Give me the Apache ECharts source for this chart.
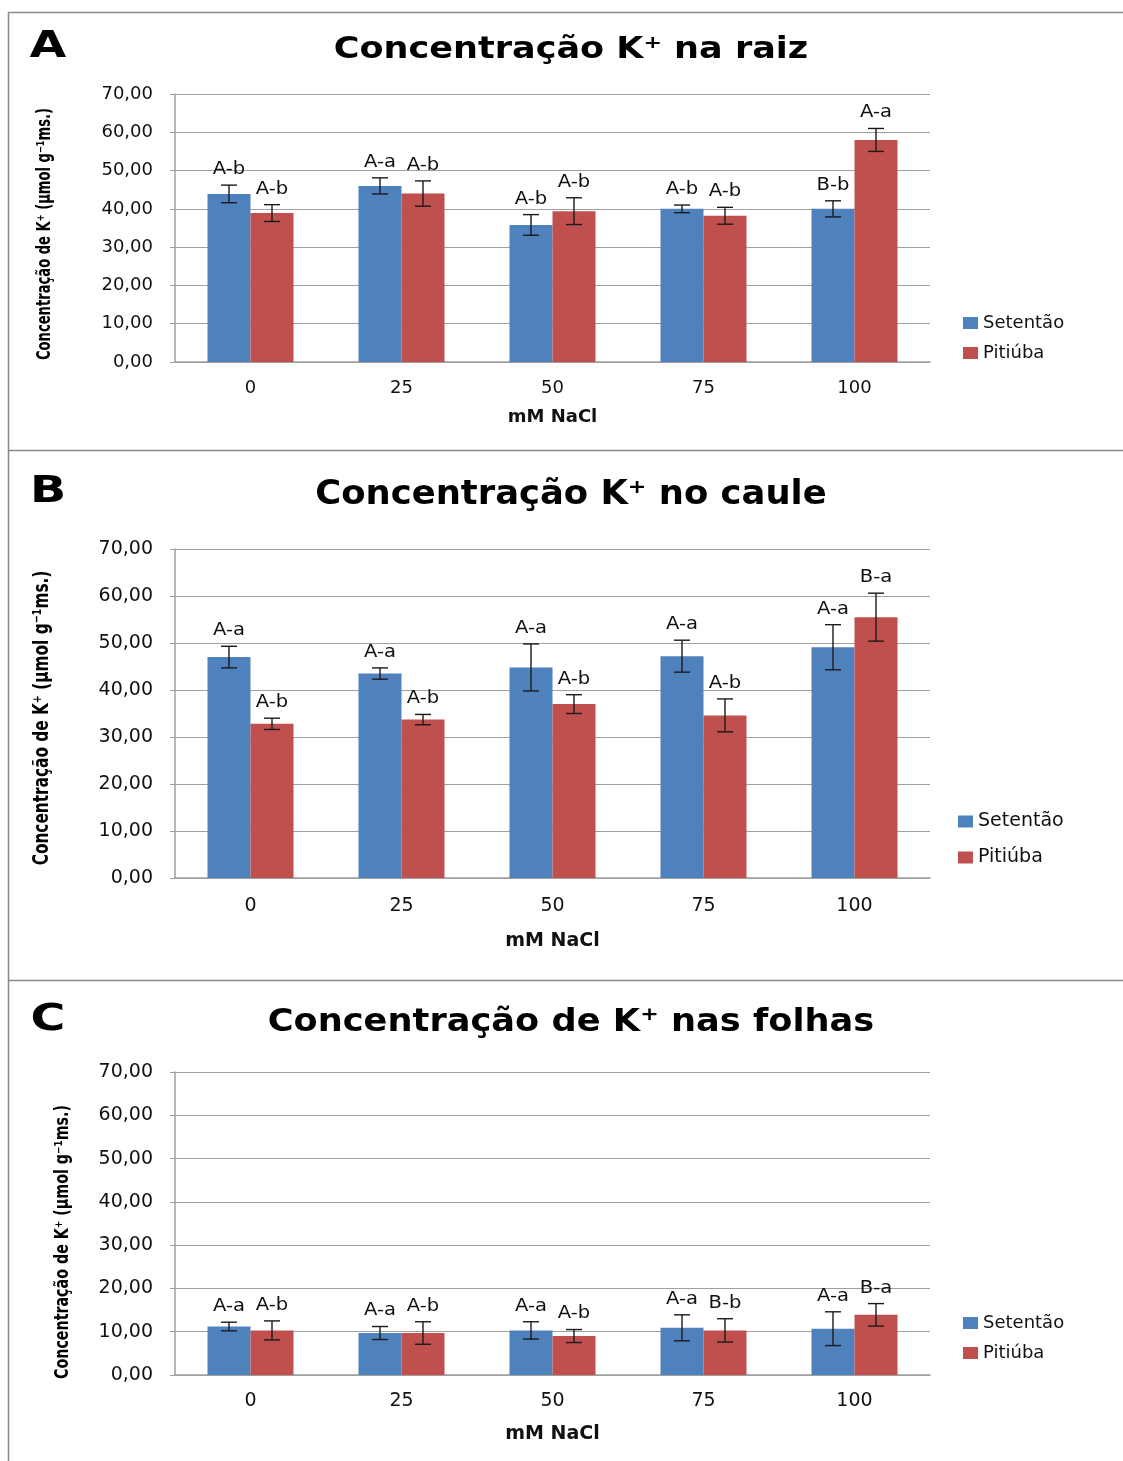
<!DOCTYPE html>
<html>
<head>
<meta charset="utf-8">
<title>Concentração de K+</title>
<script src="https://cdn.jsdelivr.net/npm/echarts@6/dist/echarts.min.js"></script>
<style>
  html, body { margin: 0; padding: 0; background: #ffffff; }
  #chart { width: 1123px; height: 1461px; }
</style>
</head>
<body>
<div id="chart"></div>
<script>
// NaCl treatments (mM)
const categories = ['0', '25', '50', '75', '100'];
const yTicks = [0, 10, 20, 30, 40, 50, 60, 70];

// A - raiz
const raizSetentao = [43.9, 46.0, 35.8, 40.0, 40.0];
const raizSetentaoErr = [2.3, 2.1, 2.7, 1.0, 2.1];
const raizPitiuba = [38.9, 44.0, 39.4, 38.2, 58.0];
const raizPitiubaErr = [2.2, 3.3, 3.5, 2.2, 3.0];
const raizSetentaoSig = ['A-b', 'A-a', 'A-b', 'A-b', 'B-b'];
const raizPitiubaSig = ['A-b', 'A-b', 'A-b', 'A-b', 'A-a'];

// B - caule
const cauleSetentao = [47.0, 43.5, 44.8, 47.2, 49.1];
const cauleSetentaoErr = [2.3, 1.2, 5.0, 3.4, 4.8];
const caulePitiuba = [32.8, 33.7, 37.0, 34.6, 55.5];
const caulePitiubaErr = [1.2, 1.1, 2.0, 3.5, 5.1];
const cauleSetentaoSig = ['A-a', 'A-a', 'A-a', 'A-a', 'A-a'];
const caulePitiubaSig = ['A-b', 'A-b', 'A-b', 'A-b', 'B-a'];

// C - folhas
const folhasSetentao = [11.2, 9.7, 10.3, 10.9, 10.7];
const folhasSetentaoErr = [1.0, 1.5, 2.0, 3.0, 3.9];
const folhasPitiuba = [10.3, 9.7, 9.0, 10.3, 13.9];
const folhasPitiubaErr = [2.2, 2.6, 1.5, 2.7, 2.6];
const folhasSetentaoSig = ['A-a', 'A-a', 'A-a', 'A-a', 'A-a'];
const folhasPitiubaSig = ['A-b', 'A-b', 'A-b', 'B-b', 'B-a'];

const BLUE = '#4f81bd';
const RED = '#c0504d';
const GRID_LINE = '#a0a0a0';
const FRAME = '#8a8a8a';
const BAR_W = 43;
const YNAME = 'Concentração de K\u207A (µmol g\u207B\u00B9ms.)';

const panels = [
  { letter: 'A', title: 'Concentração K\u207A na raiz', titleSize: 31, titleScale: 1.13, titleY: 50,
    grid: { left: 175, right: 193, top: 94, height: 268 },
    set: raizSetentao, setErr: raizSetentaoErr, setSig: raizSetentaoSig,
    pit: raizPitiuba, pitErr: raizPitiubaErr, pitSig: raizPitiubaSig,
    tick: 18, xname: 'mM NaCl', xGap: 46, labelMargin: 17,
    yName: { x: 45, y: 234, size: 19, scale: 0.69 },
    legend: { left: 958, top: 309, gap: 12, size: 18 } },
  { letter: 'B', title: 'Concentração K\u207A no caule', titleSize: 34, titleScale: 1.04, titleY: 495,
    grid: { left: 175, right: 193, top: 549, height: 329 },
    set: cauleSetentao, setErr: cauleSetentaoErr, setSig: cauleSetentaoSig,
    pit: caulePitiuba, pitErr: caulePitiubaErr, pitSig: caulePitiubaSig,
    tick: 19, xname: 'mM NaCl', xGap: 54, labelMargin: 19,
    yName: { x: 43, y: 718, size: 21, scale: 0.73 },
    legend: { left: 953, top: 807, gap: 17, size: 19 } },
  { letter: 'C', title: 'Concentração de K\u207A nas folhas', titleSize: 32, titleScale: 1.1, titleY: 1023,
    grid: { left: 175, right: 193, top: 1072, height: 303 },
    set: folhasSetentao, setErr: folhasSetentaoErr, setSig: folhasSetentaoSig,
    pit: folhasPitiuba, pitErr: folhasPitiubaErr, pitSig: folhasPitiubaSig,
    tick: 19, xname: 'mM NaCl', xGap: 50, labelMargin: 17,
    yName: { x: 63, y: 1242, size: 19, scale: 0.75 },
    legend: { left: 958, top: 1309, gap: 12, size: 18 } }
];

function fmt(v) { return v.toFixed(2).replace('.', ','); }

// Error bar with its significance letters above the cap
function errorRenderer(offset, sigs) {
  return function (params, api) {
    const i = api.value(0), m = api.value(1), e = api.value(2);
    const hi = api.coord([i, m + e]);
    const lo = api.coord([i, m - e]);
    const x = hi[0] + offset;
    const cap = 8;
    const st = { stroke: '#1a1a1a', lineWidth: 1.4 };
    return {
      type: 'group',
      children: [
        { type: 'line', shape: { x1: x, y1: hi[1], x2: x, y2: lo[1] }, style: st },
        { type: 'line', shape: { x1: x - cap, y1: hi[1], x2: x + cap, y2: hi[1] }, style: st },
        { type: 'line', shape: { x1: x - cap, y1: lo[1], x2: x + cap, y2: lo[1] }, style: st },
        { type: 'text', x: x, y: hi[1] - 7, scaleX: 1.15,
          style: { text: sigs[params.dataIndex], x: 0, y: 0,
            textAlign: 'center', textVerticalAlign: 'bottom',
            font: '17px "DejaVu Sans"', fill: '#111' } }
      ]
    };
  };
}

const grids = [], xAxes = [], yAxes = [], series = [], legends = [], graphics = [];

panels.forEach(function (p, k) {
  grids.push(p.grid);
  xAxes.push({
    type: 'category', gridIndex: k, data: categories,
    axisLine: { lineStyle: { color: GRID_LINE, width: 1.5 } },
    axisTick: { show: false },
    axisLabel: { color: '#111', fontSize: p.tick, fontFamily: 'DejaVu Sans', margin: p.labelMargin },
    name: p.xname, nameLocation: 'middle', nameGap: p.xGap,
    nameTextStyle: { color: '#111', fontSize: p.tick, fontWeight: 'bold', fontFamily: 'DejaVu Sans' }
  });
  yAxes.push({
    type: 'value', gridIndex: k, min: yTicks[0], max: yTicks[yTicks.length - 1], interval: 10,
    axisLine: { show: true, lineStyle: { color: GRID_LINE, width: 1.5 } },
    axisTick: { show: true, length: 5, lineStyle: { color: GRID_LINE } },
    splitLine: { lineStyle: { color: GRID_LINE, width: 1.2 } },
    axisLabel: { color: '#111', fontSize: p.tick, fontFamily: 'DejaVu Sans', margin: 22, formatter: fmt }
  });
  series.push({
    name: 'Setentão', type: 'bar', xAxisIndex: k, yAxisIndex: k, data: p.set,
    barWidth: BAR_W, barGap: '0%', itemStyle: { color: BLUE }
  });
  series.push({
    name: 'Pitiúba', type: 'bar', xAxisIndex: k, yAxisIndex: k, data: p.pit,
    barWidth: BAR_W, barGap: '0%', itemStyle: { color: RED }
  });
  series.push({
    name: 'erro-set-' + k, type: 'custom', xAxisIndex: k, yAxisIndex: k, z: 5,
    data: p.set.map(function (v, i) { return [i, v, p.setErr[i]]; }),
    encode: { x: 0, y: 1 }, renderItem: errorRenderer(-BAR_W / 2, p.setSig)
  });
  series.push({
    name: 'erro-pit-' + k, type: 'custom', xAxisIndex: k, yAxisIndex: k, z: 5,
    data: p.pit.map(function (v, i) { return [i, v, p.pitErr[i]]; }),
    encode: { x: 0, y: 1 }, renderItem: errorRenderer(BAR_W / 2, p.pitSig)
  });
  legends.push({
    data: ['Setentão', 'Pitiúba'], orient: 'vertical', left: p.legend.left, top: p.legend.top,
    itemGap: p.legend.gap, itemWidth: 15, itemHeight: 12, icon: 'rect', selectedMode: false,
    textStyle: { color: '#111', fontSize: p.legend.size, fontFamily: 'DejaVu Sans' }
  });
  graphics.push({
    type: 'text', x: 571, y: p.titleY, scaleX: p.titleScale,
    style: { text: p.title, x: 0, y: 0, textAlign: 'center', textVerticalAlign: 'middle',
      font: 'bold ' + p.titleSize + 'px "DejaVu Sans"', fill: '#000' }
  });
  graphics.push({
    type: 'text', x: 48, y: p.titleY - 3, scaleX: 1.25,
    style: { text: p.letter, x: 0, y: 0, textAlign: 'center', textVerticalAlign: 'middle',
      font: 'bold 38px "DejaVu Sans"', fill: '#000' }
  });
  graphics.push({
    type: 'text', x: p.yName.x, y: p.yName.y, rotation: Math.PI / 2, scaleX: p.yName.scale,
    style: { text: YNAME, x: 0, y: 0, textAlign: 'center', textVerticalAlign: 'middle',
      font: 'bold ' + p.yName.size + 'px "DejaVu Sans"', fill: '#000' }
  });
});

// Frame and panel separators
[[8, 12.5, 1123, 12.5], [8.5, 12, 8.5, 1461], [8, 450.5, 1123, 450.5], [8, 980.5, 1123, 980.5]]
  .forEach(function (s) {
    graphics.push({ type: 'line', shape: { x1: s[0], y1: s[1], x2: s[2], y2: s[3] },
      style: { stroke: FRAME, lineWidth: 1.5 } });
  });

const chart = echarts.init(document.getElementById('chart'), null, { renderer: 'canvas' });
chart.setOption({
  animation: false,
  backgroundColor: '#ffffff',
  grid: grids,
  xAxis: xAxes,
  yAxis: yAxes,
  legend: legends,
  series: series,
  graphic: graphics
});
</script>
</body>
</html>
